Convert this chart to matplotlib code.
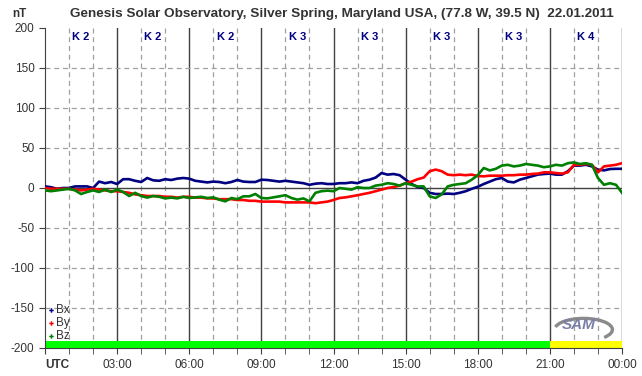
import numpy as np
import matplotlib
matplotlib.use("Agg")
import matplotlib.pyplot as plt
from matplotlib.patches import Arc

# ---- data (15-min samples, hours 0..24) ----
hours = np.arange(0, 24.01, 0.25)

bx = [2, 1, -1, 0, 0, 2, 2, 2, 0, 8, 6, 7.5,
      5, 11, 11, 9, 7.5, 12.5, 9.6, 9, 11, 10, 11.7, 12.5,
      11.7, 9, 8, 7, 8, 7.5, 6, 7.5, 10, 8, 7.5, 7.5,
      10.4, 10, 9, 8, 9, 8, 7, 6, 4, 5.4, 6, 5,
      5, 6, 6, 7, 6, 9, 10.4, 13, 18.7, 16.7, 17.5, 16,
      10.4, 5, 1.2, 0, -6, -7.5, -7.5, -7, -7.5, -6, -4, -1,
      1.5, 5, 8, 11, 12.5, 8, 7, 10.4, 12.5, 14.6, 16.7, 17.5,
      18, 16.7, 16.7, 21, 28, 28, 29, 27, 23, 22, 23.7, 24, 24]

by = [0, -1, -1, -1, -1, -2, -3, -2, -1, -2, -3, -4,
      -4, -5, -6, -8, -9, -10, -10, -10, -11, -11, -12, -11,
      -11, -12, -12, -13, -13, -14, -14, -14, -15, -15, -16, -16,
      -17, -17, -17, -17, -18, -18, -18, -18, -18, -19, -18, -17,
      -15, -12.5, -11.7, -10.4, -9, -7.5, -6, -4, -2, 0, 1.2, 3,
      6, 8, 11, 13, 21, 23, 21, 16.7, 16, 16.7, 16, 16.7,
      15, 14.6, 15.4, 15.4, 15.4, 16, 16, 16.7, 16.7, 17.5, 18, 19.6,
      19.6, 18.7, 18, 19.6, 29, 29, 30, 29, 19.6, 27, 28, 29, 31]

bz = [-3, -4, -3, -2, -1, -3, -7.5, -5, -3, -5, -2, -5,
      -2, -5, -10, -6, -10, -12, -10, -11, -13, -12, -13, -11,
      -12.5, -11.7, -11, -12.5, -11.7, -14.6, -16.7, -12.5, -14, -10.4, -10.4, -7.5,
      -12.5, -13, -11.7, -10.4, -9, -12.5, -14.6, -13, -16.7, -6, -4, -3.3,
      -4, 0, -1, -2, 1, 0, 0, 3, 4, 6, 5, 3,
      6, 4, 2, 2, -10.4, -12.5, -8, 2, 4, 5, 6, 10.4,
      16, 25, 22, 24, 28, 29, 27, 28, 30, 29, 28, 26,
      27, 29, 28, 31, 32, 30, 31, 29, 12.5, 4, 6, 4, -6]

k_index = [2, 2, 2, 3, 3, 3, 3, 4]
xtick_labels = ["UTC", "03:00", "06:00", "09:00", "12:00", "15:00", "18:00", "21:00", "00:00"]
yticks = [-200, -150, -100, -50, 0, 50, 100, 150, 200]

FAM = ["Liberation Sans", "DejaVu Sans"]
W, H = 642, 376
fig = plt.figure(figsize=(W / 100, H / 100), dpi=100)
ax = fig.add_axes([45 / W, 1 - 348 / H, (622 - 45) / W, (348 - 28) / H])
ax.set_xlim(0, 24)
ax.set_ylim(-200, 200)

# grid
for h in range(1, 24):
    if h % 3 == 0:
        ax.axvline(h, color="#404040", lw=1.0, zorder=1)
    else:
        ax.axvline(h, color="#a0a0a0", lw=0.9, ls=(0, (4, 3)), zorder=1)
ax.axvline(24, color="#404040", lw=1.0, zorder=1)
for y in yticks[1:-1]:
    if y == 0:
        ax.axhline(0, color="#404040", lw=1.0, zorder=1)
    else:
        ax.axhline(y, color="#a0a0a0", lw=0.9, ls=(0, (4, 3)), zorder=1)

# K-index bar and labels
kcol = {1: "#00ff00", 2: "#00ff00", 3: "#00ff00", 4: "#ffff00", 5: "#ff0000"}
for i, k in enumerate(k_index):
    ax.broken_barh([(3 * i, 3)], (-200, 8.8), facecolors=kcol[k], zorder=2)
    ax.text(3 * i + 1.5, 189, f"K {k}", ha="center", va="center", color="#000080",
            fontsize=8, fontweight="bold", family=FAM, zorder=4)

ax.plot(hours, bx, color="#000080", lw=1.9, zorder=3)
ax.plot(hours, by, color="#ff0000", lw=1.9, zorder=3)
ax.plot(hours, bz, color="#008000", lw=1.9, zorder=3)

# legend
for j, (lab, c) in enumerate([("Bx", "#000080"), ("By", "#ff0000"), ("Bz", "#008000")]):
    yv = -152.5 - j * 16.2
    ax.plot([0.24], [yv], marker="P", ms=3.2, color=c, mew=0, zorder=4)
    ax.text(0.46, yv, lab, va="center", ha="left", fontsize=8.5, color="#333333",
            family=FAM, zorder=4)

# SAM logo (approximate)
ax.add_patch(Arc((22.4, -177), 2.4, 28, theta1=-85, theta2=110, color="#8a8a8a",
                 lw=2.4, zorder=2))
ax.text(22.2, -171, "SAM", ha="center", va="center", fontsize=11, fontstyle="italic",
        fontweight="bold", color="#7880a8", zorder=2.5, family=FAM)

# spines / ticks
for s in ["top", "right"]:
    ax.spines[s].set_visible(False)
ax.spines["left"].set_color("#404040")
ax.spines["bottom"].set_color("#404040")
ax.set_xticks(range(0, 25, 3))
ax.set_xticks(range(0, 25), minor=True)
ax.set_xticklabels(xtick_labels)
ax.set_yticks(yticks)
ax.set_yticklabels([str(v) for v in yticks])
ax.tick_params(axis="both", which="both", direction="out", length=4, color="#404040",
               labelsize=8.5, labelcolor="#333333")
ax.tick_params(axis="x", which="major", pad=4)
for lab in ax.get_xticklabels() + ax.get_yticklabels():
    lab.set_family(FAM)
ax.get_xticklabels()[0].set_fontweight("bold")
ax.get_xticklabels()[0].set_horizontalalignment("left")

fig.text(12 / W, 1 - 14 / H, "nT", fontsize=8.5, fontweight="bold", color="#333333",
         va="center", ha="left", family=FAM)
fig.text(342 / W, 1 - 14 / H,
         "Genesis Solar Observatory, Silver Spring, Maryland USA, (77.8 W, 39.5 N)  22.01.2011",
         fontsize=9.7, fontweight="bold", color="#333333", va="center", ha="center",
         family=FAM)

fig.savefig("out.png", dpi=100, facecolor="white")
